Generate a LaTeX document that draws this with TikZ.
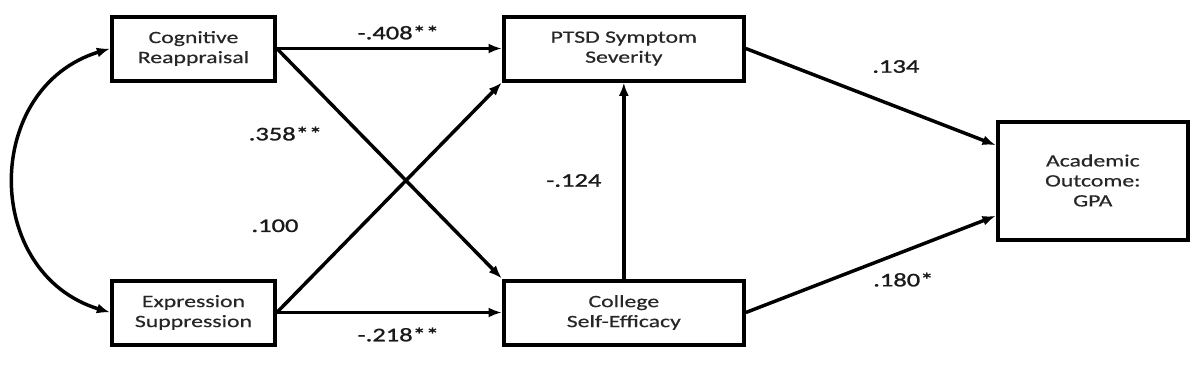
\documentclass[tikz,border=0pt]{standalone}
\usepackage{fontspec}
\setmainfont{Carlito}[FakeStretch=1.37, FakeBold=0.4]
\newfontfamily\coeffont{Carlito}[FakeStretch=1.37, FakeBold=1.2]
\usetikzlibrary{arrows.meta, positioning, calc}
\definecolor{ink}{HTML}{1A1A1A}
\definecolor{boxtext}{HTML}{262626}

\begin{document}
\begin{tikzpicture}[
  >={Latex[length=10pt,width=7.5pt]},
  every node/.style={font=\fontsize{14.5}{17}\selectfont},
  construct/.style={draw=black, line width=3pt, fill=white,
                    minimum width=122pt, minimum height=48pt, align=center,
                    text=boxtext, font=\fontsize{13}{15}\selectfont},
  effect/.style={->, line width=2.6pt, color=black},
  coef/.style={text=ink, inner sep=0pt, font=\coeffont\fontsize{14.5}{17}\selectfont}
]
  \useasboundingbox (-145.125pt,36.375pt) rectangle (754.875pt,-239.625pt);

  % Predictors
  \node[construct] (cr) {Cognitive\\Reappraisal};
  \node[construct, below=147pt of cr] (es) {Expression\\Suppression};

  % Mediators
  \node[construct, right=168.75pt of cr, minimum width=180pt] (ptsd)
    {PTSD Symptom\\Severity};
  \node[construct, right=168.75pt of es, minimum width=180pt] (cse)
    {College\\Self-Efficacy};

  % Outcome
  \coordinate (mid) at ($(ptsd.east)!0.5!(cse.east)$);
  \node[construct, right=187.5pt of mid, minimum width=142.5pt,
        minimum height=88.5pt] (gpa) {Academic\\Outcome:\\GPA};

  \draw[effect, <->] (cr.west) to[out=197, in=163, looseness=1.3] (es.west);

  \draw[effect] (cr.east) -- node[coef, pos=0.54, yshift=12pt]{-.408**} (ptsd.west);
  \draw[effect] (cr.east) -- node[coef, pos=0.37, xshift=-56pt]{.358**} (cse.north west);
  \draw[effect] (es.east) -- node[coef, pos=0.377, xshift=-65pt]{.100} (ptsd.south west);
  \draw[effect] (es.east) -- node[coef, pos=0.54, yshift=-16.5pt]{-.218**} (cse.west);
  \draw[effect] (cse.north) -- node[coef, pos=0.5, xshift=-37.5pt]{-.124} (ptsd.south);
  \draw[effect] (ptsd.east) -- node[coef, pos=0.6, yshift=30pt]{.134} (gpa.160);
  \draw[effect] (cse.east) -- node[coef, pos=0.63, yshift=-21pt]{.180*} (gpa.200);
\end{tikzpicture}
\end{document}
